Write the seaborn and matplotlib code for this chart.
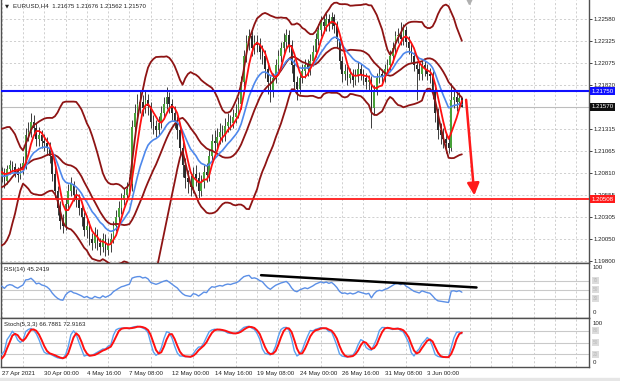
import numpy as np
import pandas as pd
import matplotlib
matplotlib.use("Agg")
import matplotlib.pyplot as plt
import seaborn as sns
from matplotlib.transforms import blended_transform_factory

# ---------------- data ----------------
title_text = "EURUSD,H4  1.21675 1.21676 1.21562 1.21570"
rsi_title = "RSI(14) 45.2419"
stoch_title = "Stoch(5,3,3) 66.7881 72.9163"

# closes of the bars just left of the visible window (indicator warm-up)
warmup_closes = [1.2040, 1.2045, 1.2030, 1.2020, 1.2005, 1.2015, 1.2015, 1.2030, 1.2050, 1.2075,
                 1.2090, 1.2095, 1.2095, 1.2105, 1.2110, 1.2100, 1.2085, 1.2082, 1.2085, 1.2078]

first_open = 1.2078
closes = [1.2080, 1.2072, 1.2085, 1.2090,
          1.2088, 1.2082, 1.2078, 1.2085, 1.2092, 1.2125,
          1.2128, 1.2140, 1.2132, 1.2120, 1.2125, 1.2118,
          1.2115, 1.2110, 1.2100, 1.2080, 1.2060, 1.2040,
          1.2025, 1.2020, 1.2045, 1.2060, 1.2068, 1.2055,
          1.2050, 1.2040, 1.2030, 1.2015, 1.2020, 1.2005,
          1.2000, 1.2010, 1.2000, 1.1995, 1.2005, 1.1992,
          1.1998, 1.2005, 1.2020, 1.2030, 1.2040, 1.2050,
          1.2055, 1.2062, 1.2068, 1.2134, 1.2150, 1.2160,
          1.2162, 1.2155, 1.2165, 1.2158, 1.2140, 1.2135,
          1.2130, 1.2138, 1.2150, 1.2160, 1.2168, 1.2160,
          1.2150, 1.2140, 1.2130, 1.2110, 1.2090, 1.2075,
          1.2070, 1.2065, 1.2080, 1.2075, 1.2060, 1.2070,
          1.2082, 1.2078, 1.2100, 1.2118, 1.2115, 1.2122,
          1.2128, 1.2125, 1.2135, 1.2140, 1.2138, 1.2145,
          1.2150, 1.2160, 1.2185, 1.2215, 1.2230, 1.2238,
          1.2225, 1.2232, 1.2228, 1.2220, 1.2215, 1.2200,
          1.2185, 1.2175, 1.2190, 1.2205, 1.2215, 1.2225,
          1.2232, 1.2240, 1.2228, 1.2205, 1.2185, 1.2178,
          1.2190, 1.2198, 1.2205, 1.2200, 1.2210, 1.2220,
          1.2235, 1.2245, 1.2255, 1.2250, 1.2258, 1.2252,
          1.2260, 1.2250, 1.2235, 1.2210, 1.2195, 1.2198,
          1.2190, 1.2195, 1.2188, 1.2192, 1.2200, 1.2195,
          1.2190, 1.2185, 1.2188, 1.2155, 1.2175, 1.2190,
          1.2195, 1.2192, 1.2200, 1.2205, 1.2215, 1.2225,
          1.2238, 1.2240, 1.2235, 1.2245, 1.2232, 1.2225,
          1.2215, 1.2205, 1.2200, 1.2195, 1.2205, 1.2200,
          1.2195, 1.2192, 1.2175, 1.2150, 1.2130, 1.2125,
          1.2120, 1.2115, 1.2110, 1.2165, 1.2168, 1.2162,
          1.21675, 1.21570]

highs = [1.2088, 1.2086, 1.2090, 1.2096,
         1.2095, 1.2092, 1.2088, 1.2092, 1.2100, 1.2132,
         1.2140, 1.2150, 1.2148, 1.2138, 1.2134, 1.2130,
         1.2126, 1.2122, 1.2116, 1.2106, 1.2088, 1.2066,
         1.2048, 1.2034, 1.2052, 1.2068, 1.2076, 1.2072,
         1.2062, 1.2056, 1.2046, 1.2036, 1.2028, 1.2026,
         1.2012, 1.2018, 1.2016, 1.2006, 1.2012, 1.2010,
         1.2006, 1.2012, 1.2026, 1.2038, 1.2048, 1.2058,
         1.2064, 1.2070, 1.2076, 1.2142, 1.2160, 1.2172,
         1.2176, 1.2170, 1.2175, 1.2172, 1.2162, 1.2148,
         1.2142, 1.2146, 1.2158, 1.2168, 1.2180, 1.2174,
         1.2166, 1.2158, 1.2146, 1.2136, 1.2116, 1.2098,
         1.2084, 1.2078, 1.2088, 1.2090, 1.2082, 1.2078,
         1.2090, 1.2092, 1.2108, 1.2126, 1.2130, 1.2132,
         1.2138, 1.2136, 1.2144, 1.2150, 1.2148, 1.2154,
         1.2160, 1.2168, 1.2192, 1.2222, 1.2240, 1.2246,
         1.2244, 1.2240, 1.2240, 1.2236, 1.2228, 1.2222,
         1.2206, 1.2192, 1.2196, 1.2212, 1.2222, 1.2232,
         1.2242, 1.2246, 1.2245, 1.2234, 1.2212, 1.2192,
         1.2196, 1.2206, 1.2212, 1.2212, 1.2218, 1.2228,
         1.2242, 1.2252, 1.2262, 1.2262, 1.2265, 1.2264,
         1.2266, 1.2264, 1.2256, 1.2240, 1.2216, 1.2206,
         1.2204, 1.2202, 1.2200, 1.2200, 1.2208, 1.2206,
         1.2200, 1.2196, 1.2194, 1.2192, 1.2182, 1.2196,
         1.2202, 1.2200, 1.2206, 1.2212, 1.2222, 1.2232,
         1.2244, 1.2248, 1.2254, 1.2252, 1.2250, 1.2238,
         1.2230, 1.2220, 1.2210, 1.2208, 1.2212, 1.2210,
         1.2206, 1.2202, 1.2198, 1.2180, 1.2156, 1.2138,
         1.2132, 1.2128, 1.2122, 1.2184, 1.2176, 1.2174,
         1.2174, 1.21676]

lows = [1.2070, 1.2064, 1.2068, 1.2080,
        1.2082, 1.2076, 1.2070, 1.2074, 1.2080, 1.2085,
        1.2118, 1.2122, 1.2125, 1.2112, 1.2112, 1.2110,
        1.2106, 1.2102, 1.2092, 1.2072, 1.2052, 1.2032,
        1.2016, 1.2012, 1.2015, 1.2040, 1.2054, 1.2048,
        1.2042, 1.2032, 1.2020, 1.2008, 1.2006, 1.1998,
        1.1992, 1.1994, 1.1992, 1.1986, 1.1990, 1.1985,
        1.1986, 1.1990, 1.2000, 1.2014, 1.2024, 1.2034,
        1.2044, 1.2048, 1.2056, 1.2060, 1.2126, 1.2142,
        1.2150, 1.2146, 1.2150, 1.2148, 1.2132, 1.2126,
        1.2122, 1.2124, 1.2132, 1.2144, 1.2154, 1.2150,
        1.2142, 1.2132, 1.2120, 1.2100, 1.2076, 1.2064,
        1.2058, 1.2054, 1.2058, 1.2066, 1.2052, 1.2054,
        1.2064, 1.2070, 1.2072, 1.2094, 1.2106, 1.2108,
        1.2114, 1.2116, 1.2118, 1.2128, 1.2130, 1.2132,
        1.2138, 1.2144, 1.2154, 1.2178, 1.2208, 1.2222,
        1.2216, 1.2218, 1.2220, 1.2212, 1.2206, 1.2190,
        1.2172, 1.2163, 1.2168, 1.2184, 1.2198, 1.2208,
        1.2218, 1.2224, 1.2220, 1.2196, 1.2176, 1.2165,
        1.2172, 1.2184, 1.2190, 1.2192, 1.2194, 1.2204,
        1.2214, 1.2228, 1.2238, 1.2242, 1.2244, 1.2244,
        1.2246, 1.2242, 1.2226, 1.2200, 1.2186, 1.2188,
        1.2182, 1.2184, 1.2180, 1.2182, 1.2186, 1.2188,
        1.2182, 1.2178, 1.2176, 1.2133, 1.2148, 1.2170,
        1.2184, 1.2186, 1.2186, 1.2194, 1.2198, 1.2208,
        1.2218, 1.2230, 1.2228, 1.2228, 1.2226, 1.2218,
        1.2208, 1.2198, 1.2165, 1.2188, 1.2188, 1.2192,
        1.2188, 1.2184, 1.2166, 1.2140, 1.2120, 1.2114,
        1.2110, 1.2104, 1.2104, 1.2106, 1.2156, 1.2152,
        1.2156, 1.21562]

date_labels = ["27 Apr 2021", "30 Apr 00:00", "4 May 16:00", "7 May 08:00", "12 May 00:00",
               "14 May 16:00", "19 May 08:00", "24 May 00:00", "26 May 16:00",
               "31 May 08:00", "3 Jun 00:00"]
label_bars = [0, 16, 32, 48, 64, 80, 96, 112, 128, 144, 160]

price_ticks = [1.22580, 1.22325, 1.22075, 1.21820, 1.21565, 1.21315, 1.21065,
               1.20810, 1.20555, 1.20305, 1.20050, 1.19800]
hidden_tick = 1.21565          # its label sits under the current-price box
blue_level = 1.21750
red_level = 1.20508
bid_price = 1.21570
rsi_levels = [70, 50, 30]
stoch_levels = [80, 50, 20]
rsi_trend_x = [97.5, 178.5]
rsi_trend_y = [82, 55]
arrow_x = [174.6, 177.7]
arrow_y = [1.2165, 1.2055]
shift_marker_bar = 175.5

assert len(closes) == len(highs) == len(lows) == 174

# ---------------- indicators ----------------
n_w = len(warmup_closes)
c_all = pd.Series(warmup_closes + closes)
h_all = pd.Series(warmup_closes + highs)
l_all = pd.Series(warmup_closes + lows)

sma_fast = c_all.rolling(5, min_periods=1).mean()
ema_slow = c_all.ewm(span=14, adjust=False).mean()
bb_mid = c_all.rolling(20, min_periods=1).mean()
bb_sd = c_all.rolling(20, min_periods=1).std(ddof=0)
bb_up = bb_mid + 2 * bb_sd
bb_lo = bb_mid - 2 * bb_sd

delta = c_all.diff().fillna(0)
gain = delta.clip(lower=0).ewm(alpha=1 / 14, adjust=False).mean()
loss = (-delta.clip(upper=0)).ewm(alpha=1 / 14, adjust=False).mean()
rsi = 100 - 100 / (1 + gain / loss.replace(0, np.nan))
rsi = rsi.fillna(50)

ll = l_all.rolling(5, min_periods=1).min()
hh = h_all.rolling(5, min_periods=1).max()
k = 100 * (c_all - ll).rolling(3, min_periods=1).sum() / (hh - ll).rolling(3, min_periods=1).sum()
d = k.rolling(3, min_periods=1).mean()

bars = np.arange(len(closes))
df = pd.DataFrame({
    "bar": bars,
    "fast": sma_fast.values[n_w:], "slow": ema_slow.values[n_w:],
    "mid": bb_mid.values[n_w:], "up": bb_up.values[n_w:], "lo": bb_lo.values[n_w:],
    "rsi": rsi.values[n_w:], "k": k.values[n_w:], "d": d.values[n_w:],
})

# ---------------- figure ----------------
sns.set_theme(style="white")
plt.rcParams["font.family"] = ["Liberation Sans", "DejaVu Sans"]

W, H = 620, 381
fig = plt.figure(figsize=(W / 100, H / 100), dpi=100)
fig.patch.set_facecolor("white")
axw = 589 / W
x0 = 0.0015
ax = fig.add_axes([x0, (H - 262.5) / H, axw - x0, 262.5 / H])
ax_r = fig.add_axes([x0, (H - 317.5) / H, axw - x0, 55 / H])
ax_s = fig.add_axes([x0, (H - 367) / H, axw - x0, 49 / H])

FS = 4.4
grid_kw = dict(color="#c8c8c8", linestyle=(0, (2.5, 2.5)), linewidth=0.6)
spine_c = "#505050"
XLIM = (-0.3, 220.8)
grid_bars = list(range(0, 221, 8))

for a in (ax, ax_r, ax_s):
    a.set_facecolor("white")
    for s in a.spines.values():
        s.set_color(spine_c)
        s.set_linewidth(1.0)
    a.set_xlim(*XLIM)
    a.set_xticks(grid_bars, minor=True)
    a.grid(True, axis="x", which="minor", **grid_kw)
    a.tick_params(axis="x", which="minor", length=0)

ax.spines["top"].set_visible(False)
for a in (ax, ax_r):
    a.set_xticks([])
    a.tick_params(axis="x", which="both", length=0, labelbottom=False)

# ---- main price panel ----
ax.set_ylim(1.19777, 1.22799)
ax.set_yticks(price_ticks)
ax.set_yticklabels(["" if p == hidden_tick else f"{p:.5f}" for p in price_ticks])
ax.yaxis.tick_right()
ax.tick_params(axis="y", length=2, width=0.6, pad=1.5, labelsize=FS, colors="#222222")
ax.grid(True, axis="y", **grid_kw)

# candles
opens = np.array([first_open] + closes[:-1])
cl = np.array(closes)
bull = cl >= opens
ax.vlines(bars, lows, highs, color="#3c3c3c", linewidth=0.7, zorder=2)
ax.bar(bars[bull], (cl - opens)[bull], bottom=opens[bull], width=0.62,
       color="#48a23a", edgecolor="none", zorder=3)
ax.bar(bars[~bull], (opens - cl)[~bull], bottom=cl[~bull], width=0.62,
       color="#2a2a2a", edgecolor="none", zorder=3)

band_c = "#8e1414"
for col in ("up", "mid", "lo"):
    sns.lineplot(data=df, x="bar", y=col, ax=ax, color=band_c, linewidth=1.3, zorder=4)
sns.lineplot(data=df, x="bar", y="slow", ax=ax, color="#4e88ec", linewidth=1.2, zorder=5)
sns.lineplot(data=df, x="bar", y="fast", ax=ax, color="#ff1010", linewidth=1.3, zorder=6)

ax.axhline(bid_price, color="#bdbdbd", linewidth=0.8, zorder=1)
ax.axhline(blue_level, color="#1010ff", linewidth=1.5, zorder=7)
ax.axhline(red_level, color="#ff1a1a", linewidth=1.3, zorder=7)

ax.annotate("", xy=(arrow_x[1], arrow_y[1]), xytext=(arrow_x[0], arrow_y[0]),
            arrowprops=dict(arrowstyle="-|>,head_length=0.6,head_width=0.3",
                            color="#ff1a1a", lw=1.8, shrinkA=0, shrinkB=0), zorder=8)
ax.plot([shift_marker_bar], [1.22785], marker="v", markersize=4, color="#b0b0b0",
        clip_on=False, zorder=8)

trans = blended_transform_factory(ax.transAxes, ax.transData)
for val, txt, fc in ((blue_level, f"{blue_level:.5f}", "#1010ff"),
                     (bid_price, f"{bid_price:.5f}", "#101010"),
                     (red_level, f"{red_level:.5f}", "#ff1a1a")):
    ax.text(1.004, val, txt, transform=trans, ha="left", va="center", fontsize=FS,
            color="white", zorder=10, clip_on=False,
            bbox=dict(boxstyle="square,pad=0.28", fc=fc, ec="none"))

ax.set_xlabel("")
ax.set_ylabel("")
ax.text(4.5 / 589, 1 - 6 / 262.5, "\u25bc", transform=ax.transAxes, fontsize=3.8,
        va="center", ha="left", color="#222222", family=["DejaVu Sans"])
ax.text(12 / 589, 1 - 6 / 262.5, title_text, transform=ax.transAxes, fontsize=FS,
        va="center", ha="left", color="#222222")

# ---- RSI panel ----
ax_r.set_ylim(-11, 109.9)
sns.lineplot(data=df, x="bar", y="rsi", ax=ax_r, color="#5b8fe6", linewidth=1.0, zorder=4)
for lv in rsi_levels:
    ax_r.axhline(lv, color="#c9c9c9", linewidth=0.8, zorder=1)
sns.lineplot(x=rsi_trend_x, y=rsi_trend_y, ax=ax_r, color="black", linewidth=1.8, zorder=6)
ax_r.set_xlim(*XLIM)
ax_r.set_yticks([0, 100])
ax_r.set_yticklabels(["0", "100"])
ax_r.yaxis.tick_right()
ax_r.tick_params(axis="y", length=0, pad=2.5, labelsize=FS, colors="#222222")
ax_r.set_xlabel("")
ax_r.set_ylabel("")
ax_r.text(3 / 589, 1 - 7.5 / 55, rsi_title, transform=ax_r.transAxes, fontsize=FS,
          va="center", ha="left", color="#222222")
tr_r = blended_transform_factory(ax_r.transAxes, ax_r.transData)
for lv in rsi_levels:
    ax_r.text(1.006, lv, f"{lv}", transform=tr_r, ha="left", va="center", fontsize=3.4,
              color="#b8b8b8", clip_on=False,
              bbox=dict(boxstyle="square,pad=0.2", fc="#dcdcdc", ec="none"))

# ---- Stochastic panel ----
ax_s.set_ylim(-12.8, 112.8)
for lv in stoch_levels:
    ax_s.axhline(lv, color="#c9c9c9", linewidth=0.8, zorder=1)
sns.lineplot(data=df, x="bar", y="k", ax=ax_s, color="#5aa0f0", linewidth=1.0, zorder=4)
sns.lineplot(data=df, x="bar", y="d", ax=ax_s, color="#ff1010", linewidth=1.4, zorder=5)
ax_s.set_yticks([0, 100])
ax_s.set_yticklabels(["0", "100"])
ax_s.yaxis.tick_right()
ax_s.tick_params(axis="y", length=0, pad=2.5, labelsize=FS, colors="#222222")
ax_s.set_ylabel("")
ax_s.set_xlabel("")
ax_s.text(3 / 589, 1 - 6.5 / 49, stoch_title, transform=ax_s.transAxes, fontsize=FS,
          va="center", ha="left", color="#222222")
tr_s = blended_transform_factory(ax_s.transAxes, ax_s.transData)
for lv in stoch_levels:
    ax_s.text(1.006, lv, f"{lv}", transform=tr_s, ha="left", va="center", fontsize=3.4,
              color="#b8b8b8", clip_on=False,
              bbox=dict(boxstyle="square,pad=0.2", fc="#dcdcdc", ec="none"))

ax_s.set_xticks(label_bars)
ax_s.set_xticklabels(date_labels)
ax_s.tick_params(axis="x", which="major", length=2, width=0.6, pad=1.2,
                 labelsize=FS, colors="#222222")
for lab in ax_s.get_xticklabels():
    lab.set_ha("left")
ax_s.set_xlim(*XLIM)

fig.patches.append(plt.Rectangle((0, 0), 1, 3.5 / H, transform=fig.transFigure,
                                 color="#e6e6e6", zorder=0))

fig.savefig("out.png", dpi=100, facecolor="white")
